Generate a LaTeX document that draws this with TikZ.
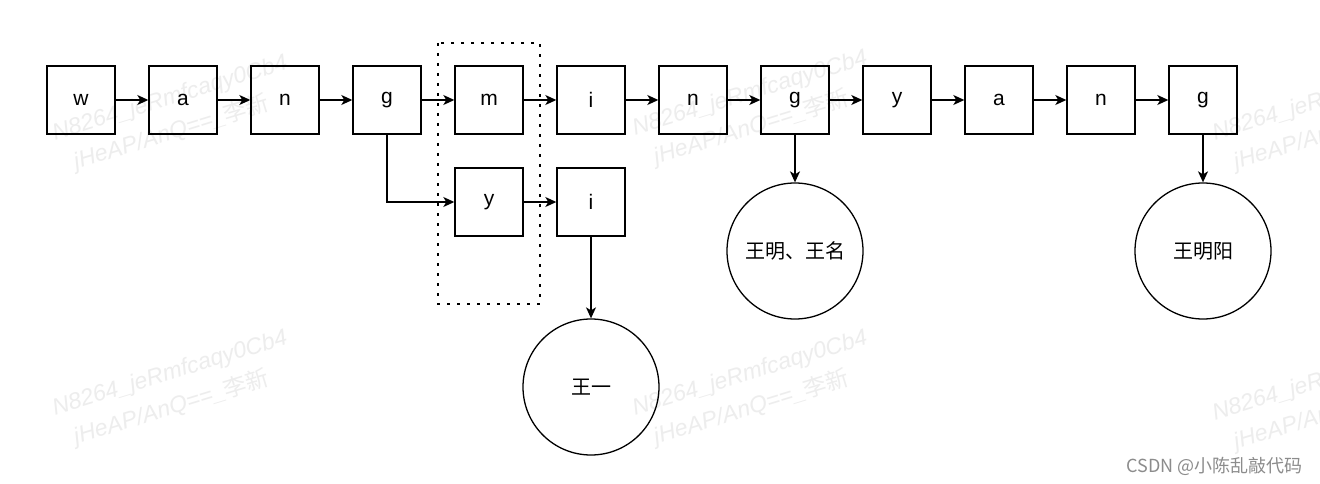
\documentclass[tikz,border=0pt]{standalone}
\usepackage{fontspec}
\setmainfont{Liberation Sans}
\newfontfamily\cjk{Noto Sans CJK SC}
\usetikzlibrary{arrows.meta}
\begin{document}
\begin{tikzpicture}[x=1pt,y=-1pt,
  letterbox/.style={draw,line width=1.4pt,minimum width=68pt,minimum height=68pt,inner sep=0pt,font=\fontsize{21}{24}\selectfont},
  leafcircle/.style={draw,circle,line width=1.3pt,minimum size=136pt,inner sep=0pt,font=\cjk\fontsize{20}{24}\selectfont},
  link/.style={line width=1.3pt,-{Stealth[length=11pt,width=10pt,inset=3pt]}},
  wm/.style={color=black!7,font=\fontsize{23}{34}\selectfont\itshape,rotate=17,anchor=center,align=left}
]
\useasboundingbox[fill=white] (0,0) rectangle (1320,484);
% watermarks
\foreach \wx/\wy in {175/115, 755/110, 1335/115, 175/390, 755/390, 1335/395}{
  \node[wm] at (\wx,\wy) {N8264\_jeRmfcaqy0Cb4\\\hspace*{12pt}jHeAP/AnQ==\_{\cjk 李新}};
}
\node[anchor=south east,font=\cjk\fontsize{18}{21}\selectfont,text=black!45] (csdn) at (1306,479) {CSDN @小陈乱敲代码};
% dotted group
\draw[line width=2.8pt,dash pattern=on 2.8pt off 7.2pt] (438,43) rectangle (540,304);
% top row
\node[letterbox] (w1) at (81,100) {w};
\node[letterbox] (a1) at (183,100) {a};
\node[letterbox] (n1) at (285,100) {n};
\node[letterbox] (g1) at (387,100) {g};
\node[letterbox] (m1) at (489,100) {m};
\node[letterbox] (i1) at (591,100) {i};
\node[letterbox] (n2) at (693,100) {n};
\node[letterbox] (g2) at (795,100) {g};
\node[letterbox] (y1) at (897,100) {y};
\node[letterbox] (a2) at (999,100) {a};
\node[letterbox] (n3) at (1101,100) {n};
\node[letterbox] (g3) at (1203,100) {g};
% second row
\node[letterbox] (y2) at (489,202) {y};
\node[letterbox] (i2) at (591,202) {i};
% leaves
\node[leafcircle] (c1) at (591,387) {王一};
\node[leafcircle] (c2) at (795,251) {王明、王名};
\node[leafcircle] (c3) at (1203,251) {王明阳};
% links
\foreach \s/\t in {w1/a1,a1/n1,n1/g1,g1/m1,m1/i1,i1/n2,n2/g2,g2/y1,y1/a2,a2/n3,n3/g3,y2/i2}{
  \draw[link] (\s) -- (\t);
}
\draw[link] (g1.south) |- (y2.west);
\draw[link] (i2) -- (c1);
\draw[link] (g2) -- (c2);
\draw[link] (g3) -- (c3);
\end{tikzpicture}
\end{document}
